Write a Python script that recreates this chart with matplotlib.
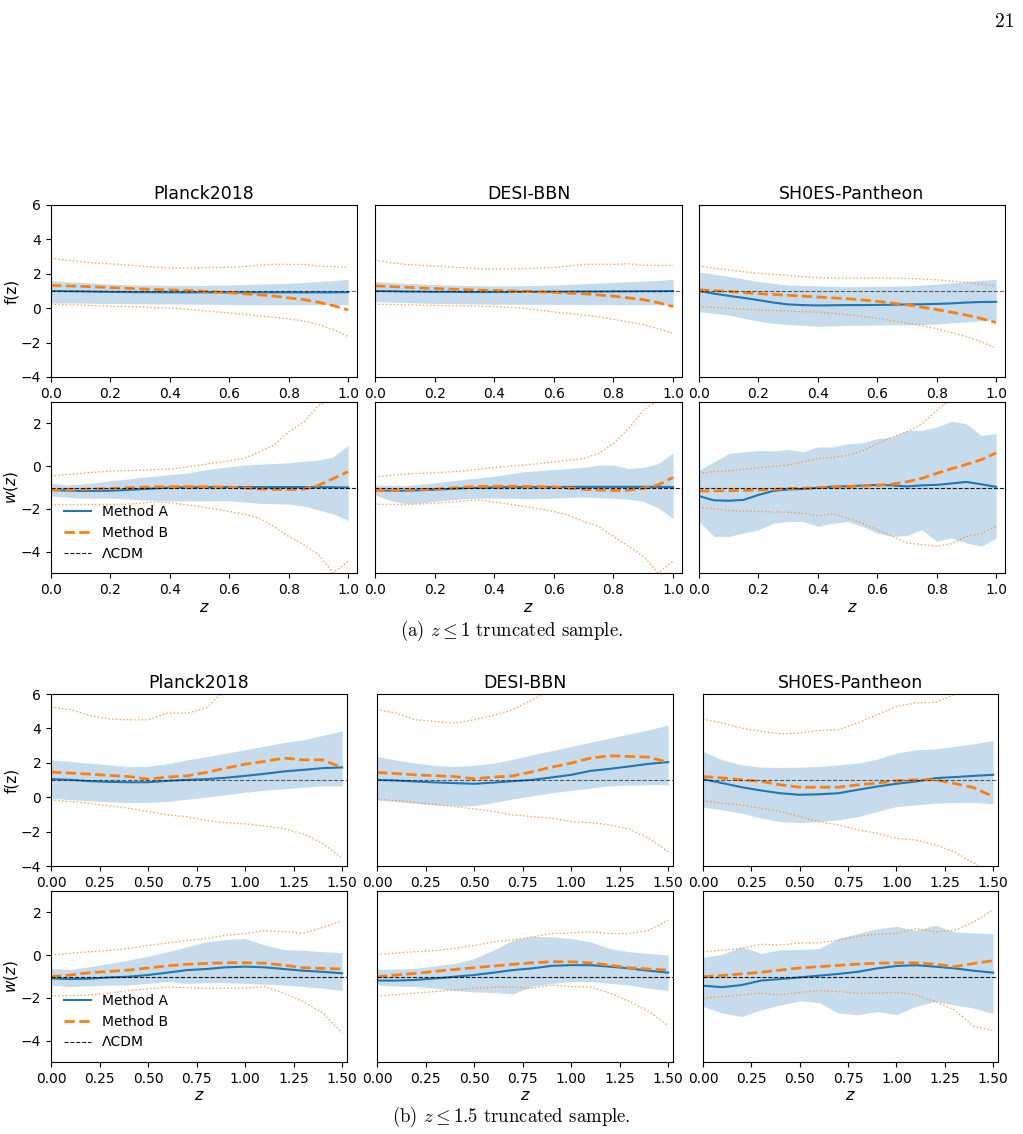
import matplotlib.pyplot as plt

# redshift grids
z_a = [0.0, 0.05, 0.1, 0.15, 0.2, 0.25, 0.3, 0.35, 0.4, 0.45, 0.5,
       0.55, 0.6, 0.65, 0.7, 0.75, 0.8, 0.85, 0.9, 0.95, 1.0]
z_b = [0.0, 0.1, 0.2, 0.3, 0.4, 0.5, 0.6, 0.7, 0.8, 0.9, 1.0,
       1.1, 1.2, 1.3, 1.4, 1.5]

datasets = ["Planck2018", "DESI-BBN", "SH0ES-Pantheon"]
captions = [r"(a) $z \leq 1$ truncated sample.", r"(b) $z \leq 1.5$ truncated sample."]

# ---------------- (a) z <= 1 : f(z) ----------------
a_pl_f_A = [1.0, 0.99, 0.98, 0.96, 0.95, 0.94, 0.93, 0.93, 0.92, 0.92, 0.92, 0.92, 0.92, 0.92, 0.92, 0.92, 0.92, 0.92, 0.92, 0.92, 0.93]
a_pl_f_Ahi = [1.6, 1.55, 1.5, 1.45, 1.4, 1.37, 1.35, 1.34, 1.33, 1.33, 1.33, 1.34, 1.35, 1.37, 1.4, 1.42, 1.45, 1.5, 1.55, 1.6, 1.68]
a_pl_f_Alo = [0.3, 0.3, 0.3, 0.28, 0.28, 0.27, 0.26, 0.25, 0.25, 0.24, 0.23, 0.22, 0.21, 0.2, 0.2, 0.2, 0.2, 0.2, 0.2, 0.2, 0.2]
a_pl_f_B = [1.33, 1.3, 1.27, 1.24, 1.2, 1.16, 1.12, 1.09, 1.06, 1.03, 1.0, 0.95, 0.9, 0.84, 0.78, 0.7, 0.6, 0.5, 0.35, 0.15, -0.1]
a_pl_f_Bhi = [2.9, 2.8, 2.7, 2.62, 2.58, 2.52, 2.45, 2.4, 2.33, 2.33, 2.35, 2.37, 2.38, 2.42, 2.5, 2.55, 2.55, 2.55, 2.45, 2.42, 2.38]
a_pl_f_Blo = [0.22, 0.2, 0.18, 0.15, 0.12, 0.1, 0.07, 0.03, 0.0, -0.05, -0.12, -0.2, -0.28, -0.35, -0.45, -0.52, -0.62, -0.75, -0.95, -1.25, -1.65]

a_de_f_A = [1.0, 0.99, 0.97, 0.96, 0.95, 0.95, 0.94, 0.94, 0.94, 0.94, 0.95, 0.95, 0.96, 0.96, 0.97, 0.97, 0.98, 0.98, 0.99, 0.99, 1.0]
a_de_f_Ahi = [1.55, 1.5, 1.45, 1.42, 1.38, 1.35, 1.32, 1.31, 1.3, 1.3, 1.31, 1.33, 1.35, 1.38, 1.42, 1.46, 1.5, 1.54, 1.58, 1.62, 1.68]
a_de_f_Alo = [0.38, 0.35, 0.33, 0.3, 0.28, 0.27, 0.25, 0.24, 0.23, 0.23, 0.22, 0.22, 0.22, 0.22, 0.21, 0.21, 0.2, 0.2, 0.2, 0.2, 0.2]
a_de_f_B = [1.3, 1.26, 1.22, 1.18, 1.15, 1.11, 1.08, 1.05, 1.03, 1.0, 0.98, 0.95, 0.92, 0.88, 0.84, 0.77, 0.7, 0.6, 0.5, 0.32, 0.1]
a_de_f_Bhi = [2.8, 2.65, 2.55, 2.5, 2.45, 2.4, 2.35, 2.3, 2.28, 2.28, 2.3, 2.33, 2.37, 2.45, 2.55, 2.55, 2.55, 2.58, 2.5, 2.48, 2.47]
a_de_f_Blo = [0.23, 0.22, 0.2, 0.18, 0.17, 0.15, 0.13, 0.12, 0.1, 0.05, 0.0, -0.1, -0.22, -0.3, -0.4, -0.5, -0.65, -0.8, -0.95, -1.2, -1.45]

a_sh_f_A = [1.0, 0.85, 0.72, 0.6, 0.47, 0.33, 0.22, 0.18, 0.16, 0.17, 0.18, 0.18, 0.19, 0.2, 0.22, 0.23, 0.25, 0.28, 0.33, 0.36, 0.37]
a_sh_f_Ahi = [2.1, 1.98, 1.85, 1.7, 1.55, 1.45, 1.35, 1.32, 1.3, 1.27, 1.25, 1.26, 1.27, 1.28, 1.3, 1.35, 1.4, 1.47, 1.55, 1.62, 1.68]
a_sh_f_Alo = [-0.2, -0.3, -0.4, -0.58, -0.75, -0.88, -0.95, -1.0, -1.05, -1.03, -1.0, -0.99, -0.98, -0.97, -0.97, -0.95, -0.92, -0.85, -0.8, -0.74, -0.68]
a_sh_f_B = [1.07, 1.02, 0.97, 0.91, 0.85, 0.8, 0.75, 0.7, 0.65, 0.6, 0.55, 0.48, 0.4, 0.3, 0.2, 0.06, -0.08, -0.23, -0.4, -0.6, -0.83]
a_sh_f_Bhi = [2.45, 2.33, 2.22, 2.12, 2.03, 1.97, 1.9, 1.83, 1.78, 1.76, 1.75, 1.75, 1.75, 1.75, 1.73, 1.7, 1.65, 1.58, 1.5, 1.4, 1.3]
a_sh_f_Blo = [0.1, 0.05, 0.0, -0.05, -0.1, -0.13, -0.17, -0.2, -0.23, -0.3, -0.38, -0.47, -0.58, -0.72, -0.87, -1.02, -1.2, -1.42, -1.65, -1.95, -2.33]

# ---------------- (a) z <= 1 : w(z) ----------------
a_pl_w_A = [-1.12, -1.14, -1.16, -1.16, -1.15, -1.12, -1.08, -1.04, -1.0, -0.99, -0.99, -0.98, -0.98, -0.98, -0.98, -0.98, -0.98, -0.98, -0.98, -0.99, -1.0]
a_pl_w_Ahi = [-0.8, -0.88, -0.85, -0.78, -0.68, -0.62, -0.53, -0.47, -0.39, -0.34, -0.22, -0.11, -0.03, 0.05, 0.09, 0.12, 0.16, 0.23, 0.28, 0.43, 0.98]
a_pl_w_Alo = [-1.4, -1.45, -1.5, -1.5, -1.5, -1.53, -1.58, -1.6, -1.63, -1.63, -1.63, -1.62, -1.62, -1.68, -1.74, -1.76, -1.78, -1.86, -2.05, -2.23, -2.54]
a_pl_w_B = [-1.12, -1.1, -1.09, -1.07, -1.05, -1.02, -0.99, -0.97, -0.96, -0.96, -0.96, -0.97, -0.98, -1.02, -1.07, -1.09, -1.1, -1.08, -0.9, -0.58, -0.26]
a_pl_w_Bhi = [-0.47, -0.4, -0.34, -0.28, -0.23, -0.21, -0.19, -0.16, -0.14, -0.05, 0.05, 0.15, 0.25, 0.36, 0.67, 0.98, 1.6, 2.06, 2.84, 3.2, 3.4]
a_pl_w_Blo = [-1.81, -1.81, -1.8, -1.8, -1.8, -1.78, -1.74, -1.66, -1.72, -1.8, -1.89, -2.0, -2.12, -2.25, -2.43, -2.82, -3.29, -3.67, -4.14, -5.0, -4.45]

a_de_w_A = [-1.14, -1.15, -1.15, -1.13, -1.1, -1.07, -1.03, -1.01, -0.99, -0.98, -0.98, -0.98, -0.98, -0.97, -0.97, -0.97, -0.97, -0.97, -0.97, -0.97, -0.98]
a_de_w_Ahi = [-0.88, -0.9, -0.91, -0.85, -0.78, -0.7, -0.62, -0.55, -0.47, -0.37, -0.26, -0.21, -0.16, -0.11, -0.06, 0.05, 0.05, -0.11, -0.06, 0.12, 0.62]
a_de_w_Alo = [-1.35, -1.6, -1.75, -1.72, -1.65, -1.58, -1.52, -1.5, -1.5, -1.5, -1.52, -1.52, -1.5, -1.47, -1.45, -1.48, -1.5, -1.55, -1.65, -1.95, -2.45]
a_de_w_B = [-1.15, -1.14, -1.12, -1.1, -1.08, -1.03, -0.98, -0.95, -0.94, -0.94, -0.95, -0.96, -0.97, -1.03, -1.09, -1.12, -1.14, -1.13, -1.04, -0.88, -0.53]
a_de_w_Bhi = [-0.5, -0.43, -0.37, -0.34, -0.31, -0.27, -0.22, -0.14, -0.06, 0.0, 0.05, 0.12, 0.2, 0.28, 0.36, 0.59, 1.05, 1.75, 2.6, 3.1, 3.4]
a_de_w_Blo = [-1.78, -1.79, -1.8, -1.77, -1.74, -1.68, -1.63, -1.58, -1.68, -1.78, -1.89, -2.0, -2.12, -2.3, -2.59, -2.82, -3.29, -3.74, -4.22, -5.0, -4.45]

a_sh_w_A = [-1.4, -1.6, -1.62, -1.58, -1.35, -1.16, -1.09, -1.07, -1.01, -0.96, -0.94, -0.91, -0.88, -0.9, -0.95, -0.9, -0.88, -0.81, -0.74, -0.85, -0.97]
a_sh_w_Ahi = [-0.19, 0.2, 0.59, 0.67, 0.74, 0.71, 0.78, 0.67, 0.9, 0.9, 1.05, 1.09, 1.29, 1.36, 1.67, 1.67, 1.83, 2.1, 1.98, 1.44, 1.52]
a_sh_w_Alo = [-2.59, -3.29, -3.29, -3.13, -2.98, -2.67, -2.59, -2.59, -2.82, -2.67, -2.59, -2.82, -3.13, -3.29, -3.25, -2.98, -3.52, -3.36, -3.6, -3.75, -3.36]
a_sh_w_B = [-1.16, -1.16, -1.15, -1.14, -1.12, -1.09, -1.05, -1.03, -1.01, -0.98, -0.96, -0.93, -0.9, -0.84, -0.73, -0.57, -0.34, -0.12, 0.08, 0.3, 0.62]
a_sh_w_Bhi = [-0.34, -0.26, -0.22, -0.15, -0.08, -0.01, 0.05, 0.2, 0.36, 0.4, 0.51, 0.71, 1.05, 1.36, 1.6, 1.98, 2.6, 3.2, 3.5, 3.8, 4.0]
a_sh_w_Blo = [-1.92, -2.0, -2.08, -2.1, -2.12, -2.14, -2.16, -2.2, -2.33, -2.23, -2.43, -2.67, -2.98, -3.29, -3.6, -3.67, -3.75, -3.63, -3.29, -3.16, -2.82]

# ---------------- (b) z <= 1.5 : f(z) ----------------
b_pl_f_A = [1.05, 1.01, 0.93, 0.89, 0.87, 0.87, 0.95, 1.01, 1.05, 1.13, 1.24, 1.36, 1.5, 1.59, 1.69, 1.73]
b_pl_f_Ahi = [2.17, 2.08, 1.98, 1.88, 1.79, 1.8, 1.95, 2.17, 2.35, 2.56, 2.76, 2.97, 3.18, 3.34, 3.6, 3.86]
b_pl_f_Alo = [-0.06, -0.14, -0.21, -0.27, -0.31, -0.31, -0.25, -0.12, 0.0, 0.14, 0.29, 0.4, 0.49, 0.58, 0.66, 0.66]
b_pl_f_B = [1.46, 1.4, 1.34, 1.27, 1.2, 1.05, 1.17, 1.24, 1.44, 1.69, 1.92, 2.08, 2.27, 2.17, 2.17, 1.73]
b_pl_f_Bhi = [5.24, 5.09, 4.74, 4.54, 4.5, 4.5, 4.89, 4.89, 5.18, 6.3, 7.0, 7.5, 8.0, 8.5, 9.0, 9.5]
b_pl_f_Blo = [-0.16, -0.25, -0.35, -0.5, -0.64, -0.83, -1.03, -1.13, -1.36, -1.48, -1.55, -1.67, -1.84, -2.14, -2.68, -3.55]

b_de_f_A = [1.01, 0.97, 0.91, 0.86, 0.82, 0.78, 0.85, 0.93, 1.01, 1.15, 1.3, 1.53, 1.65, 1.79, 1.94, 2.04]
b_de_f_Ahi = [2.37, 2.15, 1.98, 1.85, 1.79, 1.85, 1.98, 2.2, 2.47, 2.7, 2.95, 3.2, 3.44, 3.68, 3.92, 4.21]
b_de_f_Alo = [-0.16, -0.25, -0.35, -0.45, -0.5, -0.5, -0.31, -0.1, 0.08, 0.25, 0.39, 0.52, 0.66, 0.7, 0.72, 0.72]
b_de_f_B = [1.44, 1.37, 1.3, 1.25, 1.2, 1.07, 1.17, 1.24, 1.48, 1.75, 1.98, 2.27, 2.41, 2.37, 2.33, 2.02]
b_de_f_Bhi = [5.09, 4.89, 4.5, 4.4, 4.31, 4.5, 4.76, 5.09, 5.67, 6.2, 6.8, 7.3, 7.8, 8.3, 8.8, 9.3]
b_de_f_Blo = [-0.12, -0.2, -0.31, -0.43, -0.54, -0.68, -0.83, -1.03, -1.13, -1.22, -1.42, -1.48, -1.61, -1.86, -2.39, -3.17]

b_sh_f_A = [1.05, 0.82, 0.58, 0.39, 0.23, 0.14, 0.17, 0.23, 0.43, 0.62, 0.78, 0.91, 1.11, 1.17, 1.24, 1.3]
b_sh_f_Ahi = [2.66, 2.17, 1.88, 1.75, 1.73, 1.75, 1.79, 1.88, 1.98, 2.21, 2.56, 2.76, 2.81, 2.95, 3.11, 3.3]
b_sh_f_Alo = [-0.58, -0.74, -0.93, -1.22, -1.42, -1.48, -1.42, -1.32, -1.13, -0.83, -0.54, -0.45, -0.35, -0.31, -0.31, -0.39]
b_sh_f_B = [1.2, 1.12, 1.01, 0.92, 0.72, 0.58, 0.58, 0.58, 0.72, 0.82, 0.95, 1.01, 1.01, 0.8, 0.55, 0.04]
b_sh_f_Bhi = [4.54, 4.31, 4.02, 3.83, 3.69, 3.73, 3.88, 3.92, 4.31, 4.8, 5.28, 5.48, 5.51, 5.96, 6.4, 6.9]
b_sh_f_Blo = [-0.19, -0.35, -0.45, -0.64, -0.83, -1.13, -1.42, -1.61, -1.9, -2.1, -2.39, -2.49, -2.78, -3.17, -3.84, -4.5]

# ---------------- (b) z <= 1.5 : w(z) ----------------
b_pl_w_A = [-1.09, -1.12, -1.1, -1.04, -1.01, -0.93, -0.82, -0.7, -0.65, -0.57, -0.54, -0.57, -0.65, -0.73, -0.78, -0.85]
b_pl_w_Ahi = [-0.62, -0.67, -0.54, -0.39, -0.23, -0.05, 0.16, 0.39, 0.62, 0.73, 0.78, 0.47, 0.26, 0.23, 0.16, 0.12]
b_pl_w_Alo = [-1.4, -1.47, -1.44, -1.4, -1.4, -1.32, -1.24, -1.32, -1.29, -1.29, -1.32, -1.36, -1.4, -1.47, -1.55, -1.66]
b_pl_w_B = [-1.01, -0.93, -0.82, -0.76, -0.7, -0.6, -0.5, -0.43, -0.39, -0.36, -0.36, -0.38, -0.47, -0.59, -0.62, -0.65]
b_pl_w_Bhi = [0.0, 0.08, 0.16, 0.22, 0.31, 0.45, 0.57, 0.68, 0.78, 0.93, 1.01, 1.15, 1.09, 1.02, 1.3, 1.6]
b_pl_w_Blo = [-1.91, -1.9, -1.86, -1.78, -1.66, -1.58, -1.5, -1.52, -1.55, -1.55, -1.55, -1.47, -1.78, -2.17, -2.71, -3.64]

b_de_w_A = [-1.19, -1.19, -1.16, -1.09, -1.01, -0.93, -0.82, -0.7, -0.62, -0.5, -0.47, -0.47, -0.54, -0.62, -0.73, -0.82]
b_de_w_Ahi = [-0.67, -0.65, -0.62, -0.5, -0.39, -0.16, 0.23, 0.7, 0.88, 0.85, 0.78, 0.62, 0.31, 0.16, 0.08, 0.0]
b_de_w_Alo = [-1.4, -1.45, -1.47, -1.55, -1.66, -1.72, -1.75, -1.81, -1.47, -1.32, -1.24, -1.24, -1.32, -1.4, -1.55, -1.66]
b_de_w_B = [-1.01, -0.93, -0.85, -0.76, -0.67, -0.59, -0.51, -0.43, -0.36, -0.31, -0.31, -0.36, -0.47, -0.59, -0.65, -0.7]
b_de_w_Bhi = [0.03, 0.1, 0.16, 0.22, 0.31, 0.45, 0.62, 0.72, 0.85, 1.01, 1.04, 1.09, 1.01, 1.01, 1.16, 1.63]
b_de_w_Blo = [-1.91, -1.85, -1.78, -1.7, -1.63, -1.55, -1.5, -1.5, -1.55, -1.4, -1.47, -1.5, -1.78, -2.17, -2.64, -3.3]

b_sh_w_A = [-1.43, -1.5, -1.4, -1.19, -1.12, -1.04, -0.96, -0.88, -0.78, -0.62, -0.51, -0.47, -0.54, -0.62, -0.73, -0.82]
b_sh_w_Ahi = [-0.11, 0.05, 0.39, 0.08, 0.26, 0.26, 0.31, 0.78, 1.01, 1.24, 1.35, 1.16, 1.4, 1.09, 1.04, 1.01]
b_sh_w_Alo = [-2.4, -2.71, -2.87, -2.56, -2.33, -2.14, -2.22, -2.71, -2.79, -2.64, -2.79, -2.4, -2.17, -2.33, -2.48, -2.74]
b_sh_w_B = [-1.01, -0.95, -0.88, -0.8, -0.7, -0.6, -0.54, -0.48, -0.42, -0.38, -0.36, -0.36, -0.42, -0.54, -0.39, -0.26]
b_sh_w_Bhi = [0.16, 0.23, 0.31, 0.51, 0.47, 0.57, 0.57, 0.7, 0.88, 0.98, 1.01, 1.24, 1.09, 1.16, 1.55, 2.12]
b_sh_w_Blo = [-2.02, -1.94, -1.86, -1.78, -1.86, -1.74, -1.66, -1.71, -1.78, -1.78, -1.74, -1.86, -2.17, -2.56, -3.33, -3.52]

# panel table built from the named lists above
panels_a = {
    ("f", 0): (a_pl_f_A, a_pl_f_Alo, a_pl_f_Ahi, a_pl_f_B, a_pl_f_Blo, a_pl_f_Bhi),
    ("f", 1): (a_de_f_A, a_de_f_Alo, a_de_f_Ahi, a_de_f_B, a_de_f_Blo, a_de_f_Bhi),
    ("f", 2): (a_sh_f_A, a_sh_f_Alo, a_sh_f_Ahi, a_sh_f_B, a_sh_f_Blo, a_sh_f_Bhi),
    ("w", 0): (a_pl_w_A, a_pl_w_Alo, a_pl_w_Ahi, a_pl_w_B, a_pl_w_Blo, a_pl_w_Bhi),
    ("w", 1): (a_de_w_A, a_de_w_Alo, a_de_w_Ahi, a_de_w_B, a_de_w_Blo, a_de_w_Bhi),
    ("w", 2): (a_sh_w_A, a_sh_w_Alo, a_sh_w_Ahi, a_sh_w_B, a_sh_w_Blo, a_sh_w_Bhi),
}
panels_b = {
    ("f", 0): (b_pl_f_A, b_pl_f_Alo, b_pl_f_Ahi, b_pl_f_B, b_pl_f_Blo, b_pl_f_Bhi),
    ("f", 1): (b_de_f_A, b_de_f_Alo, b_de_f_Ahi, b_de_f_B, b_de_f_Blo, b_de_f_Bhi),
    ("f", 2): (b_sh_f_A, b_sh_f_Alo, b_sh_f_Ahi, b_sh_f_B, b_sh_f_Blo, b_sh_f_Bhi),
    ("w", 0): (b_pl_w_A, b_pl_w_Alo, b_pl_w_Ahi, b_pl_w_B, b_pl_w_Blo, b_pl_w_Bhi),
    ("w", 1): (b_de_w_A, b_de_w_Alo, b_de_w_Ahi, b_de_w_B, b_de_w_Blo, b_de_w_Bhi),
    ("w", 2): (b_sh_w_A, b_sh_w_Alo, b_sh_w_Ahi, b_sh_w_B, b_sh_w_Blo, b_sh_w_Bhi),
}

W, H = 1023, 1134
fig = plt.figure(figsize=(W / 100, H / 100), dpi=100)


def px_axes(left, top, right, bottom):
    return fig.add_axes([left / W, 1 - bottom / H, (right - left) / W, (bottom - top) / H])


def draw(ax, z, A, Alo, Ahi, B, Blo, Bhi, ref, ref_alpha, legend=False):
    ax.fill_between(z, Alo, Ahi, color="C0", alpha=0.25, lw=0)
    ax.plot(z, Bhi, ":", color="C1", lw=1, alpha=0.7)
    ax.plot(z, Blo, ":", color="C1", lw=1, alpha=0.7)
    ax.plot(z, A, "-", color="C0", lw=1.5, label="Method A")
    ax.plot(z, B, "--", color="C1", lw=2, label="Method B")
    ax.axhline(ref, color="k", ls="--", lw=0.8, alpha=ref_alpha, label="ΛCDM")
    if legend:
        ax.legend(loc="lower left", frameon=False, fontsize=10)


blocks = [
    dict(z=z_a, panels=panels_a, xmax=1.03, xt=[0, 0.2, 0.4, 0.6, 0.8, 1.0], fmt="{:.1f}",
         cols=[(51, 357), (375, 682), (699, 1005)], rows=[(205, 377), (402, 573)], cap=631),
    dict(z=z_b, panels=panels_b, xmax=1.525, xt=[0, 0.25, 0.5, 0.75, 1.0, 1.25, 1.5], fmt="{:.2f}",
         cols=[(51, 347), (377, 673), (703, 998)], rows=[(694, 866), (891, 1062)], cap=1117),
]

for bi, blk in enumerate(blocks):
    for ri, q in enumerate(["f", "w"]):
        for ci in range(3):
            l, r = blk["cols"][ci]
            t, b = blk["rows"][ri]
            ax = px_axes(l, t, r, b)
            A, Alo, Ahi, B, Blo, Bhi = blk["panels"][(q, ci)]
            ref = 1 if q == "f" else -1
            draw(ax, blk["z"], A, Alo, Ahi, B, Blo, Bhi, ref,
                 0.6 if q == "f" else 0.9, legend=(q == "w" and ci == 0))
            ax.set_xlim(0, blk["xmax"])
            ax.set_xticks(blk["xt"])
            ax.set_xticklabels([blk["fmt"].format(v) for v in blk["xt"]], fontsize=10)
            if q == "f":
                ax.set_ylim(-4, 6)
                yt = [-4, -2, 0, 2, 4, 6]
            else:
                ax.set_ylim(-5, 3)
                yt = [-4, -2, 0, 2]
                ax.set_xlabel("$z$", fontsize=11.5, labelpad=2)
            if ci == 0:
                ax.set_yticks(yt)
                ax.tick_params(axis="y", labelsize=10)
                ax.set_ylabel("f(z)" if q == "f" else "$w(z)$", fontsize=11, labelpad=1)
            else:
                ax.set_yticks([])
            if q == "f":
                ax.set_title(datasets[ci], fontsize=12.5, pad=4)
    fig.text(0.5, 1 - blk["cap"] / H, captions[bi], ha="center", va="center",
             fontsize=13.5, family="cmr10", math_fontfamily="cm")

fig.text(1014 / W, 1 - 22 / H, "21", ha="right", va="center", fontsize=14, family="cmr10")

fig.savefig("out.png", dpi=100)
